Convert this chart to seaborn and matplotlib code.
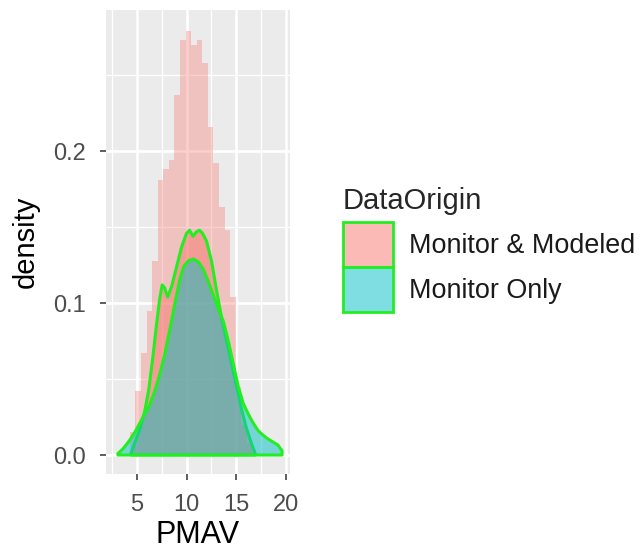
import matplotlib
matplotlib.use("Agg")
import matplotlib.pyplot as plt
import seaborn as sns
import numpy as np
from matplotlib.patches import Patch
from matplotlib.ticker import FixedLocator

# ---- data ----
hist_edges = [4.30, 4.86, 5.42, 5.98, 6.54, 7.10, 7.66, 8.22, 8.78, 9.34, 9.90,
              10.46, 11.02, 11.58, 12.14, 12.70, 13.26, 13.82, 14.38, 14.94,
              15.50, 16.06, 16.62]
hist_heights = [0.015, 0.042, 0.067, 0.095, 0.128, 0.181, 0.188, 0.194, 0.237,
                0.273, 0.279, 0.270, 0.273, 0.258, 0.216, 0.192, 0.163, 0.148,
                0.104, 0.045, 0.020, 0.008]

mm_x = [4.4, 4.8, 5.3, 5.8, 6.2, 6.6, 7.0, 7.3, 7.55, 7.8, 8.1, 8.5, 9.0, 9.5,
        10.0, 10.3, 10.65, 11.0, 11.3, 11.6, 12.0, 12.5, 13.0, 13.5, 14.0, 14.5,
        15.0, 15.5, 16.0, 16.5, 16.9]
mm_y = [0.001, 0.008, 0.017, 0.029, 0.043, 0.064, 0.087, 0.103, 0.112, 0.110,
        0.104, 0.111, 0.124, 0.137, 0.146, 0.148, 0.144, 0.147, 0.148, 0.146,
        0.141, 0.128, 0.109, 0.091, 0.076, 0.061, 0.046, 0.031, 0.018, 0.008,
        0.001]

mo_x = [3.1, 3.6, 4.2, 4.8, 5.3, 5.8, 6.3, 6.8, 7.3, 7.8, 8.3, 8.8, 9.3, 9.7,
        10.2, 10.7, 11.2, 11.7, 12.2, 12.7, 13.2, 13.7, 14.2, 14.7, 15.2, 15.7,
        16.2, 16.7, 17.2, 17.7, 18.2, 18.7, 19.2, 19.45, 19.6]
mo_y = [0.001, 0.004, 0.009, 0.015, 0.021, 0.027, 0.033, 0.042, 0.053, 0.066,
        0.082, 0.099, 0.115, 0.124, 0.128, 0.129, 0.127, 0.122, 0.114, 0.105,
        0.096, 0.088, 0.075, 0.060, 0.045, 0.034, 0.027, 0.021, 0.016, 0.013,
        0.0105, 0.0085, 0.0065, 0.004, 0.003]

groups = ["Monitor & Modeled", "Monitor Only"]
x_ticks = [5, 10, 15, 20]
x_minor = [2.5, 7.5, 12.5, 17.5]
y_ticks = [0.0, 0.1, 0.2]
y_tick_labels = ["0.0", "0.1", "0.2"]
y_minor = [0.05, 0.15, 0.25]

# ---- style ----
sns.set_theme(style="darkgrid")
plt.rcParams['font.family'] = ['Liberation Sans', 'DejaVu Sans']

pink = "#F8766D"
teal = "#00BFC4"
green = "#22EE22"

fig = plt.figure(figsize=(6.42, 5.52), dpi=100)
W, H = 642, 552
ax = fig.add_axes([106 / W, 1 - 474 / H, (290 - 106) / W, (474 - 10) / H])
ax.set_facecolor("#EBEBEB")

# histogram
centers = [(a + b) / 2 for a, b in zip(hist_edges[:-1], hist_edges[1:])]
sns.histplot(x=centers, weights=hist_heights, bins=hist_edges, ax=ax,
             color=pink, alpha=0.35, edgecolor="none", linewidth=0,
             stat="count", zorder=2)

# density polygons
def dens(xs, ys, col):
    px = [xs[0]] + list(xs) + [xs[-1]]
    py = [0.0] + list(ys) + [0.0]
    ax.fill(px, py, facecolor=matplotlib.colors.to_rgba(col, 0.5),
            edgecolor=green, linewidth=2.2, joinstyle="round", zorder=3)

dens(mm_x, mm_y, pink)
dens(mo_x, mo_y, teal)

ax.set_xlim(1.9, 20.4)
ax.set_ylim(-0.0125, 0.293)
ax.xaxis.set_major_locator(FixedLocator(x_ticks))
ax.xaxis.set_minor_locator(FixedLocator(x_minor))
ax.yaxis.set_major_locator(FixedLocator(y_ticks))
ax.yaxis.set_minor_locator(FixedLocator(y_minor))
ax.set_yticklabels(y_tick_labels)
ax.grid(which="major", color="white", linewidth=1.9)
ax.grid(which="minor", color="white", linewidth=0.95)
ax.set_axisbelow(True)
for s in ax.spines.values():
    s.set_visible(False)
ax.tick_params(which="major", length=4.3, width=1.1, color="#333333",
               labelsize=17, labelcolor="#4D4D4D", bottom=True, left=True)
ax.tick_params(axis="y", which="major", pad=10)
ax.tick_params(axis="x", which="major", pad=10)
ax.tick_params(which="minor", length=0)

ax.set_xlabel("PMAV", fontsize=22, color="black", labelpad=3)
ax.set_ylabel("density", fontsize=21, color="black", labelpad=10)

handles = [Patch(facecolor=matplotlib.colors.to_rgba(pink, 0.5), edgecolor=green, linewidth=2.0),
           Patch(facecolor=matplotlib.colors.to_rgba(teal, 0.5), edgecolor=green, linewidth=2.0)]
leg = fig.legend(handles, groups, title="DataOrigin", loc="upper left",
                 bbox_to_anchor=(343 / W, 1 - 187 / H), frameon=False,
                 fontsize=19.4, title_fontsize=21, handlelength=1.85,
                 handleheight=2.2, labelspacing=0.0, handletextpad=0.6,
                 borderpad=0, borderaxespad=0, alignment="left")
leg._legend_box.sep = 5
for t in leg.get_texts():
    t.set_color("#1A1A1A")

fig.savefig("out.png", dpi=100)
